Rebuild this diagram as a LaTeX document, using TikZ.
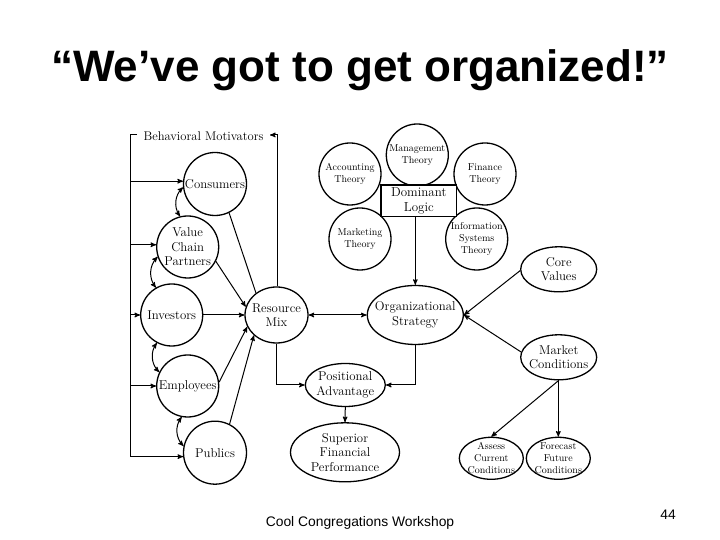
\documentclass[tikz,border=0pt]{standalone}
\usepackage{fontspec}
\newfontfamily\slidefont{Liberation Sans}
\usetikzlibrary{calc}
\usetikzlibrary{arrows}
\usetikzlibrary{shapes.geometric}
\tikzset{
  bubble/.style={ellipse,draw,line width=1.3pt,inner sep=-25pt,align=center,font=\fontsize{12.8}{14.5}\selectfont},
  small bubble/.style={bubble,font=\fontsize{10}{12}\selectfont},
  wire/.style={line width=1pt},
  feed/.style={wire,-stealth'},
  swap/.style={wire,stealth'-stealth',bend right=40}
}
\begin{document}
\begin{tikzpicture}[x=1pt,y=1pt]
\useasboundingbox (0,0) rectangle (720,540);
\node[anchor=base,font=\slidefont\fontsize{44}{44}\selectfont] (title) at (360,458) {\textbf{“We’ve got to get organized!”}};
\node[anchor=base,font=\slidefont\fontsize{13.85}{14}\selectfont] (foot) at (360,13.3) {Cool Congregations Workshop};
\node[anchor=base,font=\slidefont\fontsize{13.85}{14}\selectfont] (page) at (668,20) {44};
\node[inner sep=0pt,font=\fontsize{12.6}{14}\selectfont] (mot) at (203.5,404) {Behavioral Motivators};
\node[bubble,minimum width=63pt,minimum height=63pt] (cons) at (215,356) {Consumers};
\node[bubble,minimum width=62pt,minimum height=62pt] (vcp) at (187.7,293) {Value\\Chain\\Partners};
\node[bubble,minimum width=62pt,minimum height=62pt] (inv) at (171.7,225) {Investors};
\node[bubble,minimum width=62pt,minimum height=62pt] (emp) at (187.7,154) {Employees};
\node[bubble,minimum width=63pt,minimum height=63pt] (pub) at (215,87.3) {Publics};
\node[bubble,minimum width=63pt,minimum height=56pt] (res) at (276.5,225) {Resource\\Mix};
\node[bubble,minimum width=96pt,minimum height=59pt] (org) at (415.3,225) {Organizational\\Strategy};
\node[bubble,minimum width=76pt,minimum height=45pt] (core) at (558.7,270.7) {Core\\Values};
\node[bubble,minimum width=76pt,minimum height=45pt] (mkt) at (558.7,182.7) {Market\\Conditions};
\node[bubble,minimum width=80pt,minimum height=43pt] (pos) at (345.3,155) {Positional\\Advantage};
\node[bubble,minimum width=109pt,minimum height=59pt] (sup) at (345,87.7) {Superior\\Financial\\Performance};
\node[small bubble,minimum width=64pt,minimum height=42pt] (cur) at (491.3,81.7) {Assess\\Current\\Conditions};
\node[small bubble,minimum width=64pt,minimum height=42pt] (fut) at (558.3,81.7) {Forecast\\Future\\Conditions};
\node[small bubble,minimum width=62pt,minimum height=62pt] (mgt) at (417.3,385) {Management\\Theory};
\node[small bubble,minimum width=62pt,minimum height=62pt] (acc) at (350,366) {Accounting\\Theory};
\node[small bubble,minimum width=62pt,minimum height=62pt] (fin) at (485,366) {Finance\\Theory};
\node[small bubble,minimum width=62pt,minimum height=62pt] (mkg) at (360,301) {Marketing\\Theory};
\node[small bubble,minimum width=62pt,minimum height=62pt] (sys) at (476.7,301) {Information\\Systems\\Theory};
\node[draw,fill=white,line width=1.3pt,minimum width=75.7pt,minimum height=31.7pt,inner sep=0pt,align=center,font=\fontsize{13}{14.5}\selectfont] (dom) at (418.8,339.2) {Dominant\\Logic};
\coordinate(busT) at (130,405);
\coordinate(busB) at (130,83);
\coordinate(motL) at (137,405);
\coordinate(motR) at (270,405);
\draw[wire] (motL) -- (busT) -- (busB);
\draw[feed] (res.88) |- (motR);
\draw[feed] (cons.175 -| busT) -- (cons.175);
\draw[feed] (vcp.176 -| busT) -- (vcp.176);
\draw[feed] (inv.west -| busT) -- (inv.west);
\draw[feed] (emp.west -| busT) -- (emp.west);
\draw[feed] (pub.187 -| busT) -- (pub.187);
\draw[swap] (cons.186) to (vcp.104);
\draw[swap] (vcp.198) to (inv.120);
\draw[swap] (inv.242) to (emp.154);
\draw[swap] (emp.259) to (pub.168);
\draw[wire] (cons.-64) -- (res.133);
\draw[feed] (vcp.-27) -- (res.165);
\draw[feed] (inv.east) -- (res.west);
\draw[feed] (emp.7) -- (res.202);
\draw[feed] (pub.63) -- (res.222);
\draw[wire,stealth'-stealth'] (res.east) -- (org.west);
\draw[feed] (res.south) |- (pos.west);
\draw[feed] (org.south) |- (pos.east);
\draw[feed] (pos.south) -- (sup.north);
\draw[feed] (dom.south -| org.north) -- (org.north);
\draw[feed] (core.182) -- (org.east);
\draw[feed] (mkt.172) -- (org.east);
\draw[feed] (mkt.south) -- (cur.north);
\draw[feed] (mkt.south -| fut.north) -- (fut.north);
\end{tikzpicture}
\end{document}
